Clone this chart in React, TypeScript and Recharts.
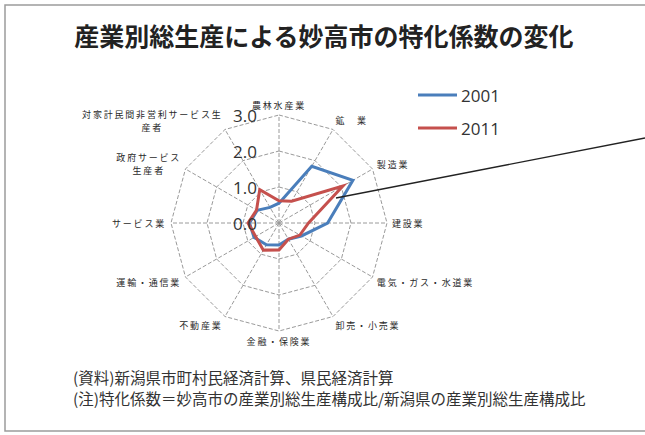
import React from "react";
import {
  RadarChart,
  Radar,
  PolarGrid,
  PolarAngleAxis,
  PolarRadiusAxis,
} from "recharts";

// 特化係数 (妙高市 / 新潟県)
const categories = [
  "農林水産業",
  "鉱業",
  "製造業",
  "建設業",
  "電気・ガス・水道業",
  "卸売・小売業",
  "金融・保険業",
  "不動産業",
  "運輸・通信業",
  "サービス業",
  "政府サービス生産者",
  "対家計民間非営利サービス生産者",
];
// how each category label is wrapped on the chart
const categoryLines = [
  ["農林水産業"],
  ["鉱　業"],
  ["製造業"],
  ["建設業"],
  ["電気・ガス・水道業"],
  ["卸売・小売業"],
  ["金融・保険業"],
  ["不動産業"],
  ["運輸・通信業"],
  ["サービス業"],
  ["政府サービス", "生産者"],
  ["対家計民間非営利サービス生", "産者"],
];
const values2001 = [0.55, 1.82, 2.37, 1.35, 0.72, 0.52, 0.61, 0.7, 0.8, 0.82, 0.7, 0.5];
const values2011 = [0.62, 0.7, 2.05, 0.82, 0.67, 0.52, 0.75, 0.87, 0.75, 0.86, 0.72, 1.07];
const radiusTicks = [0, 1, 2, 3];
const seriesNames = ["2001", "2011"];

const BLUE = "#4a7ebb";
const RED = "#c5504d";
const CX = 279;
const CY = 223;
const R = 108;
const JP = "'Noto Sans CJK JP', 'Noto Sans', sans-serif";

const data = categories.map((name, i) => ({
  name,
  y2001: values2001[i],
  y2011: values2011[i],
}));

const CHAR_W = 10.8;
const LINE_H = 13.5;

const AngleTick = (props: any) => {
  const { x, y, payload, textAnchor, index } = props;
  const lines = categoryLines[index] ?? [String(payload.value)];
  const w = Math.max(...lines.map((l) => l.length)) * CHAR_W;
  let mid = x;
  if (textAnchor === "start") mid = x + w / 2;
  if (textAnchor === "end") mid = x - w / 2;
  const vShift = ((y - CY) / (R + 5)) * 5;
  const top = y + vShift - ((lines.length - 1) * LINE_H) / 2;
  return (
    <g>
      {lines.map((l, k) => (
        <text
          key={k}
          x={mid}
          y={top + k * LINE_H}
          textAnchor="middle"
          dominantBaseline="central"
          fontSize={9}
          letterSpacing={1.8}
          fill="#2a2a2a"
          fontFamily={JP}
        >
          {l}
        </text>
      ))}
    </g>
  );
};

const RadiusTick = (props: any) => {
  const { x, y, payload } = props;
  return (
    <text
      x={x - 22}
      y={y}
      textAnchor="end"
      dominantBaseline="central"
      fontSize={17}
      fill="#333"
      fontFamily="'Open Sans', sans-serif"
    >
      {Number(payload.value).toFixed(1)}
    </text>
  );
};

export default function App() {
  return (
    <div
      style={{
        position: "absolute",
        left: 0,
        top: 0,
        width: 645,
        height: 435,
        background: "#fff",
        overflow: "hidden",
      }}
    >
      <RadarChart
        width={645}
        height={435}
        cx={CX}
        cy={CY}
        outerRadius={R}
        data={data}
        margin={{ top: 0, right: 0, bottom: 0, left: 0 }}
      >
        <PolarGrid gridType="polygon" stroke="#9a9a9a" strokeDasharray="4 2" />
        <PolarAngleAxis
          dataKey="name"
          tick={AngleTick}
          tickLine={false}
          axisLine={false}
          tickSize={5}
        />
        <PolarRadiusAxis
          angle={90}
          domain={[0, 3]}
          ticks={radiusTicks}
          tickCount={4}
          axisLine={false}
          tickLine={false}
          tick={RadiusTick}
        />
        <Radar
          name={seriesNames[0]}
          dataKey="y2001"
          stroke={BLUE}
          strokeWidth={3}
          fill="none"
          fillOpacity={0}
          dot={false}
          isAnimationActive={false}
        />
        <Radar
          name={seriesNames[1]}
          dataKey="y2011"
          stroke={RED}
          strokeWidth={3}
          fill="none"
          fillOpacity={0}
          dot={false}
          isAnimationActive={false}
        />
      </RadarChart>
      <svg
        width={645}
        height={435}
        style={{ position: "absolute", left: 0, top: 0, pointerEvents: "none" }}
      >
        {/* frame */}
        <path d="M645 5 H5 V431 H645" fill="none" stroke="#9c9c9c" strokeWidth={1.5} />
        <text
          x={324}
          y={35}
          textAnchor="middle"
          dominantBaseline="central"
          fontSize={25}
          fontWeight="bold"
          fill="#222"
          fontFamily={JP}
        >
          産業別総生産による妙高市の特化係数の変化
        </text>
        {/* legend */}
        {seriesNames.map((s, i) => (
          <g key={s}>
            <line
              x1={418}
              x2={457}
              y1={95 + i * 33}
              y2={95 + i * 33}
              stroke={i === 0 ? BLUE : RED}
              strokeWidth={3}
            />
            <text
              x={461}
              y={95 + i * 33}
              dominantBaseline="central"
              fontSize={17}
              fill="#333"
              fontFamily="'Open Sans', sans-serif"
            >
              {s}
            </text>
          </g>
        ))}
        {/* leader line */}
        <line x1={336} y1={198} x2={645} y2={138} stroke="#222" strokeWidth={1.3} />
        <text x={73} y={377} dominantBaseline="central" fontSize={15.5} fill="#333" fontFamily={JP}>
          (資料)新潟県市町村民経済計算、県民経済計算
        </text>
        <text x={73} y={398} dominantBaseline="central" fontSize={15.5} fill="#333" fontFamily={JP}>
          (注)特化係数＝妙高市の産業別総生産構成比/新潟県の産業別総生産構成比
        </text>
      </svg>
    </div>
  );
}
